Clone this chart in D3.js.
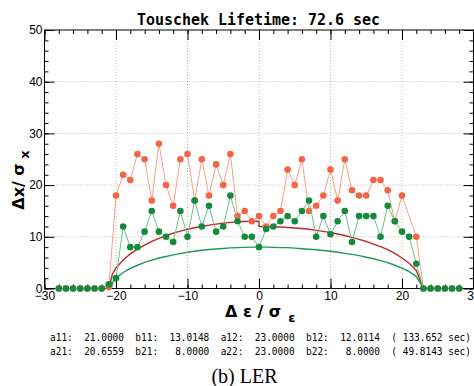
<!DOCTYPE html>
<html>
<head>
<meta charset="utf-8">
<script src="https://cdn.jsdelivr.net/npm/d3@7"></script>
<style>
  body { margin: 0; background: #fff; }
  svg { display: block; }
  .tick text { font-family: "Liberation Sans", Arial, sans-serif; font-size: 12px; fill: #000; }
  .grid line { stroke: #b8b8b8; stroke-dasharray: 1,2; }
</style>
</head>
<body>
<div id="chart"></div>
<script>
// measured points, one per integer of delta-epsilon
const pointX = d3.range(-28, 29);
const orangeValues = [
    0, 0, 0, 0, 0, 0, 0,                       // -28 .. -22
    0.3, 18, 22, 21, 26, 25, 17, 28, 20, 16,   // -21 .. -12
    25, 26, 17, 25, 18, 24, 20, 26, 14, 15, 13, // -11 .. -1
    14,                                        // 0
    12, 14, 15, 23, 20, 25, 15, 16, 18, 23,    // 1 .. 10
    17, 25, 19, 18, 18, 21, 21, 19, 13, 18,    // 11 .. 20
    null, 10, 0, 0, 0, 0, 0, 0                 // 21 .. 28
];
const greenValues = [
    0, 0, 0, 0, 0, 0, 0,                        // -28 .. -22
    0.8, 2, 12, 8, 8, 11, 15, 11, 10, 9,        // -21 .. -12
    15, 10, 17, 12, 16, 11, 12, 18, 13, 10, 10, // -11 .. -1
    8,                                          // 0
    11.5, 12, 13, 14, 13, 15, 17, 10, 14, 10.5, // 1 .. 10
    13, 15, 9, 14, 14, 14, 10, 16, 13, 11,      // 11 .. 20
    10, 4.8, 0, 0, 0, 0, 0, 0                   // 21 .. 28
];

// red fitted curve, step at 0
const redCurveX = [-21, -20.5, -20, -19, -18, -17, -16, -15, -14, -13, -12, -11, -10, -9, -8, -7, -6, -5, -4, -3, -2, -1, 0,
                   0, 1, 2, 3, 4, 5, 6, 7, 8, 9, 10, 11, 12, 13, 14, 15, 16, 17, 18, 19, 20, 21, 22, 23];
const redCurveY = [0, 2.8, 4.0, 5.5, 6.7, 7.6, 8.4, 9.1, 9.7, 10.2, 10.7, 11.1, 11.45, 11.75, 12.0, 12.25, 12.45, 12.65, 12.8, 12.9, 12.95, 13.0, 13.0,
                   12.0, 12.0, 11.95, 11.9, 11.8, 11.7, 11.6, 11.45, 11.25, 11.05, 10.8, 10.55, 10.25, 9.9, 9.5, 9.1, 8.6, 8.1, 7.5, 6.8, 5.9, 4.9, 3.5, 0];

// green fitted curve
const greenCurveX = [-20.66, -20.5, -20, -19, -18, -17, -16, -15, -14, -13, -12, -11, -10, -9, -8, -7, -6, -5, -4, -3, -2, -1, 0,
                     1, 2, 3, 4, 5, 6, 7, 8, 9, 10, 11, 12, 13, 14, 15, 16, 17, 18, 19, 20, 21, 22, 23];
const greenCurveY = [0, 1.0, 2.0, 3.1, 3.9, 4.5, 5.05, 5.5, 5.9, 6.2, 6.5, 6.75, 7.0, 7.2, 7.4, 7.55, 7.65, 7.75, 7.85, 7.9, 7.95, 8.0, 8.0,
                     8.0, 7.95, 7.9, 7.9, 7.8, 7.7, 7.6, 7.5, 7.35, 7.2, 7.0, 6.8, 6.6, 6.35, 6.05, 5.75, 5.4, 5.0, 4.5, 3.95, 3.25, 2.35, 0];

const xMajor = [-30, -20, -10, 0, 10, 20, 30];
const yMajor = [0, 10, 20, 30, 40, 50];

const title = 'Touschek Lifetime: 72.6 sec';
const fitLines = [
    'a11:  21.0000  b11:  13.0148  a12:  23.0000  b12:  12.0114  ( 133.652 sec)',
    'a21:  20.6559  b21:   8.0000  a22:  23.0000  b22:   8.0000  ( 49.8143 sec)'
];

const width = 474, height = 386;
const plot = {left: 44.5, right: 473.5, top: 30, bottom: 288.5};

const svg = d3.select('#chart')
    .append('svg')
    .attr('width', width)
    .attr('height', height);

const x = d3.scaleLinear().domain([-30, 30]).range([plot.left, plot.right]);
const y = d3.scaleLinear().domain([0, 50]).range([plot.bottom, plot.top]);

// grid
const grid = svg.append('g').attr('class', 'grid');
grid.selectAll('.gx')
    .data(xMajor.slice(1, -1))
    .enter().append('line')
    .attr('x1', d => x(d)).attr('x2', d => x(d))
    .attr('y1', plot.top).attr('y2', plot.bottom);
grid.selectAll('.gy')
    .data(yMajor.slice(1, -1))
    .enter().append('line')
    .attr('x1', plot.left).attr('x2', plot.right)
    .attr('y1', d => y(d)).attr('y2', d => y(d));

// axes: minor + major ticks on all four sides, pointing inward
const minorX = d3.range(-30, 31, 2);
const minorY = d3.range(0, 51, 2);

function addAxis(axis, transform) {
    const g = svg.append('g').attr('transform', transform).call(axis);
    g.select('.domain').remove();
    g.selectAll('.tick line').attr('stroke', '#000');
    return g;
}

addAxis(d3.axisBottom(x).tickValues(minorX).tickSize(-4).tickFormat(''), `translate(0,${plot.bottom})`);
addAxis(d3.axisBottom(x).tickValues(xMajor).tickSize(-10).tickPadding(3), `translate(0,${plot.bottom})`)
    .selectAll('text').attr('dy', '0.71em');
addAxis(d3.axisTop(x).tickValues(minorX).tickSize(-4).tickFormat(''), `translate(0,${plot.top})`);
addAxis(d3.axisTop(x).tickValues(xMajor).tickSize(-10).tickFormat(''), `translate(0,${plot.top})`);
addAxis(d3.axisLeft(y).tickValues(minorY).tickSize(-4).tickFormat(''), `translate(${plot.left},0)`);
addAxis(d3.axisLeft(y).tickValues(yMajor).tickSize(-10).tickPadding(2), `translate(${plot.left},0)`);
addAxis(d3.axisRight(y).tickValues(minorY).tickSize(-4).tickFormat(''), `translate(${plot.right},0)`);
addAxis(d3.axisRight(y).tickValues(yMajor).tickSize(-10).tickFormat(''), `translate(${plot.right},0)`);

// frame
svg.append('rect')
    .attr('x', plot.left).attr('y', plot.top)
    .attr('width', plot.right - plot.left)
    .attr('height', plot.bottom - plot.top)
    .attr('fill', 'none')
    .attr('stroke', '#000')
    .attr('stroke-width', 1);

// fitted curves
const curveLine = d3.line().x(d => x(d[0])).y(d => y(d[1]));

svg.append('path')
    .datum(d3.zip(redCurveX, redCurveY))
    .attr('fill', 'none')
    .attr('stroke', '#bf2a2a')
    .attr('stroke-width', 1.4)
    .attr('d', curveLine);

svg.append('path')
    .datum(d3.zip(greenCurveX, greenCurveY))
    .attr('fill', 'none')
    .attr('stroke', '#1e9a58')
    .attr('stroke-width', 1.4)
    .attr('d', curveLine);

// measured series
function drawSeries(values, lineColor, dotColor) {
    const pts = d3.zip(pointX, values).filter(d => d[1] !== null);
    svg.append('path')
        .datum(pts)
        .attr('fill', 'none')
        .attr('stroke', lineColor)
        .attr('stroke-width', 1)
        .attr('d', curveLine);
    svg.selectAll(null)
        .data(pts)
        .enter().append('circle')
        .attr('cx', d => x(d[0]))
        .attr('cy', d => y(d[1]))
        .attr('r', 3.3)
        .attr('fill', dotColor);
}

drawSeries(orangeValues, '#f7a08a', '#f26647');
drawSeries(greenValues, '#6cbf88', '#148a3c');

// title
svg.append('text')
    .attr('x', 258.5)
    .attr('y', 25)
    .attr('text-anchor', 'middle')
    .attr('textLength', 243)
    .attr('lengthAdjust', 'spacingAndGlyphs')
    .style('font-family', '"DejaVu Sans Mono", monospace')
    .style('font-size', '16px')
    .style('font-weight', 'bold')
    .text(title);

// axis labels
const yLabel = svg.append('text')
    .attr('transform', 'translate(24,180) rotate(-90)')
    .attr('text-anchor', 'middle')
    .style('font-family', '"DejaVu Sans", sans-serif')
    .style('font-size', '16px')
    .style('font-weight', 'bold');
yLabel.append('tspan').text('Δx/ σ');
yLabel.append('tspan').attr('dy', 5).style('font-size', '13px').text(' x');

const xLabel = svg.append('text')
    .attr('x', 225)
    .attr('y', 317)
    .style('font-family', '"DejaVu Sans", sans-serif')
    .style('font-size', '16px')
    .style('font-weight', 'bold')
    .style('white-space', 'pre');
xLabel.append('tspan').text('Δ ε / σ');
xLabel.append('tspan').attr('dy', 5).attr('dx', 7).style('font-size', '13px').text('ε');

// fit parameters
svg.selectAll('.fit')
    .data(fitLines)
    .enter().append('text')
    .attr('x', 50)
    .attr('y', (d, i) => 341 + i * 13.5)
    .attr('textLength', 421)
    .attr('lengthAdjust', 'spacingAndGlyphs')
    .style('font-family', '"DejaVu Sans Mono", monospace')
    .style('font-size', '11px')
    .style('white-space', 'pre')
    .text(d => d);

// caption
svg.append('text')
    .attr('x', 244.5)
    .attr('y', 383)
    .attr('text-anchor', 'middle')
    .style('font-family', '"Liberation Serif", "Times New Roman", serif')
    .style('font-size', '20px')
    .text('(b) LER');
</script>
</body>
</html>
